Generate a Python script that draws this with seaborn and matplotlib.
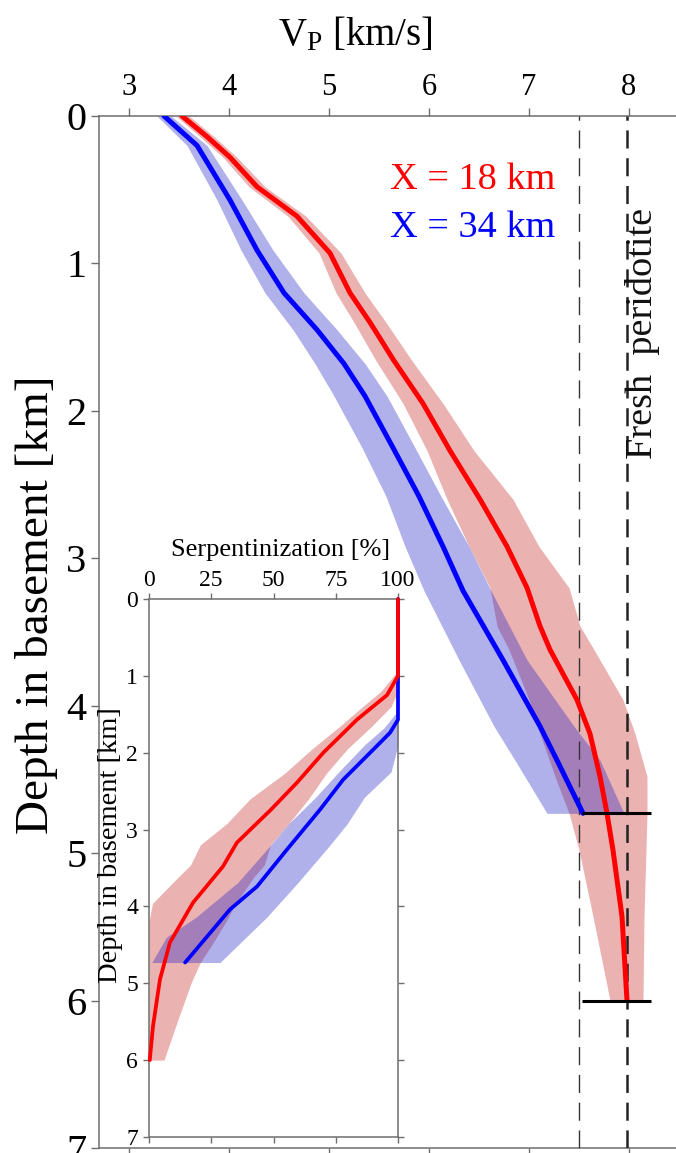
import matplotlib
matplotlib.use("Agg")
import matplotlib.pyplot as plt
import pandas as pd
import seaborn as sns

# ---- P-wave velocity profiles below the top of basement ----
# profile at X = 18 km
depth_18 = [0, 0.14, 0.28, 0.48, 0.68, 0.93, 1.2, 1.4, 1.66, 1.95, 2.27, 2.6,
            2.92, 3.2, 3.46, 3.62, 3.96, 4.19, 4.48, 4.73, 4.98, 5.43, 6.0]
vp_18 = [3.53, 3.78, 4.01, 4.28, 4.68, 5.01, 5.21, 5.41, 5.65, 5.94, 6.21, 6.51,
         6.78, 6.98, 7.11, 7.21, 7.48, 7.61, 7.71, 7.78, 7.84, 7.93, 7.98]
vp_18_lo = [3.47, 3.71, 3.94, 4.20, 4.59, 4.90, 5.07, 5.25, 5.47, 5.74, 5.98, 6.18,
            6.40, 6.61, 6.68, 6.80, 7.00, 7.11, 7.26, 7.40, 7.50, 7.64, 7.81]
vp_18_hi = [3.60, 3.85, 4.08, 4.36, 4.77, 5.12, 5.36, 5.57, 5.83, 6.14, 6.45, 6.84,
            7.10, 7.40, 7.51, 7.65, 7.94, 8.06, 8.18, 8.18, 8.17, 8.15, 8.14]

# profile at X = 34 km
depth_34 = [0, 0.2, 0.57, 0.91, 1.2, 1.45, 1.68, 1.9, 2.25, 2.58, 2.92, 3.22,
            3.69, 4.14, 4.37, 4.73]
vp_34 = [3.35, 3.68, 4.01, 4.28, 4.55, 4.88, 5.15, 5.36, 5.64, 5.90, 6.14, 6.34,
         6.74, 7.11, 7.28, 7.54]
vp_34_lo = [3.28, 3.58, 3.88, 4.12, 4.36, 4.64, 4.86, 5.05, 5.33, 5.57, 5.76, 5.95,
            6.30, 6.65, 6.86, 7.18]
vp_34_hi = [3.42, 3.78, 4.13, 4.44, 4.75, 5.08, 5.36, 5.58, 5.86, 6.12, 6.40, 6.62,
            6.98, 7.45, 7.71, 7.95]

# reference velocities and depth limits of the models
vp_reference = [7.5, 7.98]
limit_depths = [4.73, 6.0]
limit_vp_min = 7.53
limit_vp_max = 8.22

# ---- serpentinization derived from the velocity profiles ----
serp_depth_18 = [0, 1.0, 1.25, 1.57, 2.0, 2.39, 2.74, 3.17, 3.48, 3.95, 4.47,
                 4.95, 5.56, 6.0]
serp_18 = [100, 100, 95.6, 83.5, 70, 59.4, 49, 35.3, 29.7, 17.7, 8.4, 4.4, 1.6, 0.3]
serp_band_depth_18 = [0, 0.93, 1.2, 1.4, 1.66, 1.95, 2.27, 2.6, 2.92, 3.2, 3.46,
                      3.62, 3.96, 4.19, 4.48, 4.73, 4.98, 5.43, 6.0]
serp_18_lo = [100, 100, 93.2, 85.8, 76.5, 65.5, 54.4, 40.6, 31.3, 20.6, 16.7,
              11.7, 1.4, 0, 0, 0, 0, 0, 0]
serp_18_hi = [100, 100, 100, 97.2, 89.3, 79.7, 71.2, 64.1, 56.2, 48.8, 46.3,
              42.0, 34.9, 31.0, 25.6, 20.6, 17.1, 12.1, 6.0]

serp_depth_34 = [0, 1.57, 1.74, 2.0, 2.35, 2.74, 3.26, 3.74, 4.04, 4.73]
serp_34 = [100, 100, 96.8, 88.8, 78, 68.7, 55.4, 43.4, 32.5, 14.5]
serp_band_depth_34 = [0, 1.45, 1.68, 1.9, 2.25, 2.58, 2.92, 3.22, 3.69, 4.14,
                      4.4, 4.73]
serp_34_lo = [100, 100, 94.3, 86.5, 76.2, 66.9, 56.2, 48.4, 35.6, 18.9, 7.0, 1.1]
serp_34_hi = [100, 100, 100, 100, 97.2, 86.5, 79.7, 72.2, 59.8, 47.3, 39.0, 28.5]

# ---- style ----
sns.set_style("ticks")
plt.rcParams["font.family"] = ["Liberation Serif", "DejaVu Serif"]
plt.rcParams["mathtext.fontset"] = "custom"
plt.rcParams["mathtext.rm"] = "Liberation Serif"
plt.rcParams["mathtext.it"] = "Liberation Serif:italic"
plt.rcParams["lines.scale_dashes"] = False
plt.rcParams["text.color"] = "black"

RED = "#FF0000"
BLUE = "#0000FF"
RED_FILL = "#C00000"
BLUE_FILL = "#1D1DC8"
SPINE = "#6E6E6E"

W, H = 676, 1153
fig = plt.figure(figsize=(W / 100, H / 100), dpi=100)
fig.patch.set_facecolor("white")

# main velocity panel
ax = fig.add_axes([99 / W, (H - 1148) / H, (W - 99) / W, (1148 - 116) / H])

prof18 = pd.DataFrame({"depth": depth_18, "vp": vp_18})
prof34 = pd.DataFrame({"depth": depth_34, "vp": vp_34})

ax.fill_betweenx(depth_18, vp_18_lo, vp_18_hi, color=RED_FILL, alpha=0.30,
                 lw=0, zorder=1)
ax.fill_betweenx(depth_34, vp_34_lo, vp_34_hi, color=BLUE_FILL, alpha=0.35,
                 lw=0, zorder=2)
sns.lineplot(data=prof34, x="vp", y="depth", orient="y", estimator=None,
             color=BLUE, lw=3.6, ax=ax, zorder=4, legend=False)
sns.lineplot(data=prof18, x="vp", y="depth", orient="y", estimator=None,
             color=RED, lw=3.6, ax=ax, zorder=5, legend=False)

ax.axvline(vp_reference[0], color="#333333", lw=1.0, dashes=(13, 7), zorder=3)
ax.axvline(vp_reference[1], color="#222222", lw=1.8, dashes=(13, 7), zorder=3)
ax.hlines(limit_depths, limit_vp_min, limit_vp_max, color="black", lw=2.2,
          zorder=6)

ax.set_xlim(2.70, 8.47)
ax.set_ylim(7, 0)
ax.set_xticks([3, 4, 5, 6, 7, 8])
ax.set_yticks(range(0, 8))
ax.set_xlabel("")
ax.set_ylabel("")
ax.tick_params(axis="x", top=True, bottom=True, labeltop=True,
               labelbottom=False, direction="out", length=6, width=1,
               color=SPINE, labelcolor="black", labelsize=22, pad=4)
ax.tick_params(axis="y", left=True, right=False, direction="out", length=6,
               width=1, color=SPINE, labelcolor="black", labelsize=29, pad=3)
for side in ["left", "top", "bottom"]:
    ax.spines[side].set_color(SPINE)
    ax.spines[side].set_linewidth(1.1)
ax.spines["right"].set_visible(False)

ax.text((355 - 99) / (W - 99), 1 + (116 - 35) / 1032, r"V$_{\rm P}$ [km/s]",
        transform=ax.transAxes, ha="center", va="center", fontsize=28)
ax.text((37 - 99) / (W - 99), 1 - (605 - 116) / 1032, "Depth in basement [km]",
        transform=ax.transAxes, rotation=90, ha="center", va="center",
        fontsize=34)
ax.text((390 - 99) / (W - 99), 1 - (180 - 116) / 1032, "X = 18 km",
        transform=ax.transAxes, ha="left", va="center", fontsize=27.5,
        color=RED)
ax.text((390 - 99) / (W - 99), 1 - (228 - 116) / 1032, "X = 34 km",
        transform=ax.transAxes, ha="left", va="center", fontsize=27.5,
        color=BLUE)
ax.text((642 - 99) / (W - 99), 1 - (333 - 116) / 1032, "Fresh  peridotite",
        transform=ax.transAxes, rotation=90, ha="center", va="center",
        fontsize=27.5, color="#111111")

# serpentinization inset
ax_in = fig.add_axes([149 / W, (H - 1137) / H, 249 / W, (1137 - 599) / H])
ax_in.set_zorder(10)
ax_in.set_facecolor("white")

serp18 = pd.DataFrame({"depth": serp_depth_18, "serp": serp_18})
serp34 = pd.DataFrame({"depth": serp_depth_34, "serp": serp_34})

ax_in.fill_betweenx(serp_band_depth_18, serp_18_lo, serp_18_hi, color=RED_FILL,
                    alpha=0.30, lw=0, zorder=1)
ax_in.fill_betweenx(serp_band_depth_34, serp_34_lo, serp_34_hi, color=BLUE_FILL,
                    alpha=0.35, lw=0, zorder=2)
sns.lineplot(data=serp34, x="serp", y="depth", orient="y", estimator=None,
             color=BLUE, lw=2.7, ax=ax_in, zorder=4, legend=False, clip_on=False)
sns.lineplot(data=serp18, x="serp", y="depth", orient="y", estimator=None,
             color=RED, lw=2.7, ax=ax_in, zorder=5, legend=False, clip_on=False)

ax_in.set_xlim(0, 100)
ax_in.set_ylim(7, 0)
ax_in.set_xticks([0, 25, 50, 75, 100])
ax_in.set_yticks(range(0, 8))
ax_in.set_xlabel("")
ax_in.set_ylabel("")
ax_in.tick_params(axis="x", top=True, bottom=True, labeltop=True,
                  labelbottom=False, direction="out", length=4, width=1,
                  color=SPINE, labelcolor="black", labelsize=17, pad=2)
ax_in.tick_params(axis="y", left=True, right=True, labelleft=True,
                  labelright=False, direction="out", length=4, width=1,
                  color=SPINE, labelcolor="black", labelsize=17, pad=4)
for side in ["left", "right", "top", "bottom"]:
    ax_in.spines[side].set_visible(True)
    ax_in.spines[side].set_color(SPINE)
    ax_in.spines[side].set_linewidth(1.1)

ax_in.text((281 - 149) / 249, 1 + (599 - 550) / 538, "Serpentinization [%]",
           transform=ax_in.transAxes, ha="center", va="center", fontsize=19)
ax_in.text((111 - 149) / 249, 1 - (845 - 599) / 538, "Depth in basement [km]",
           transform=ax_in.transAxes, rotation=90, ha="center", va="center",
           fontsize=20.5)

fig.savefig("out.png", dpi=100, facecolor="white")
